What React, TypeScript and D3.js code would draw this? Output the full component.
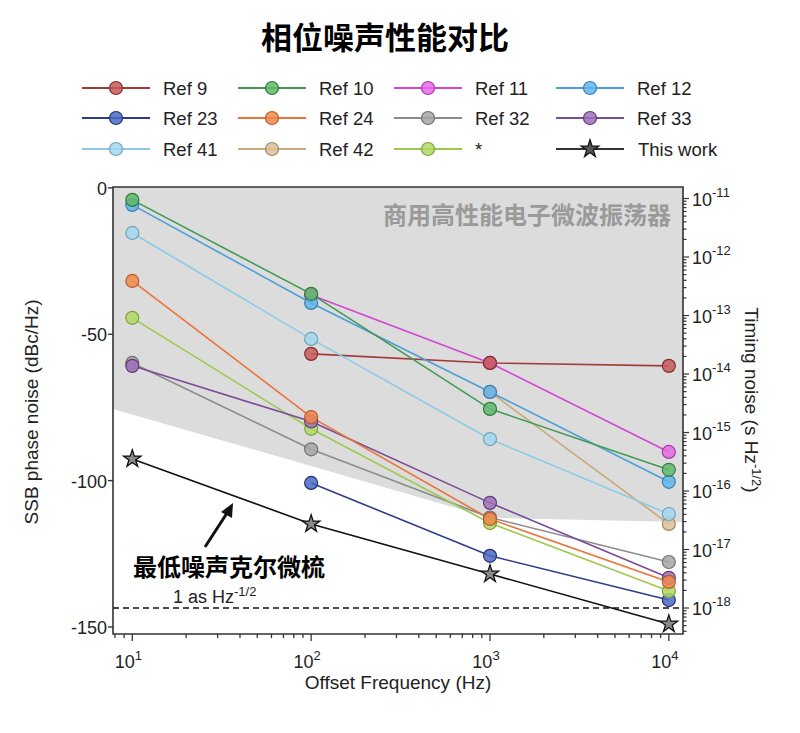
import React, {useEffect, useRef} from 'react'
import * as d3 from 'd3'

// offset frequencies (Hz)
const freqs = [10, 100, 1000, 10000]

type Series = {
    name: string
    line: string
    fill: string
    values: (number | null)[]
}

// SSB phase noise (dBc/Hz)
const ref9 = [null, -56.7, -59.8, -60.8]
const ref10 = [-4.1, -36.2, -75.5, -96.3]
const ref11 = [null, -36.6, -59.8, -90.2]
const ref12 = [-5.8, -39.3, -69.7, -100.4]
const ref23 = [null, -100.8, -125.7, -140.8]
const ref24 = [-31.8, -78.3, -113.1, -134.6]
const ref32 = [-59.8, -89.3, -112.6, -127.8]
const ref33 = [-60.8, -79.8, -107.6, -133.2]
const ref41 = [-15.4, -51.6, -85.8, -111.4]
const ref42 = [null, null, -69.7, -114.8]
const refStar = [-44.4, -82.3, -114.5, -137.7]
const thisWork = [-92.6, -114.8, -131.9, -149]

const series: Series[] = [
    {name: 'Ref 9', line: '#a33a3a', fill: '#c55a5a', values: ref9},
    {name: 'Ref 10', line: '#3f9a52', fill: '#5fb86a', values: ref10},
    {name: 'Ref 11', line: '#d246d2', fill: '#e46ae4', values: ref11},
    {name: 'Ref 12', line: '#4a9fd8', fill: '#62b4ec', values: ref12},
    {name: 'Ref 23', line: '#2c3c8c', fill: '#4a68c4', values: ref23},
    {name: 'Ref 24', line: '#ea7338', fill: '#f08a4c', values: ref24},
    {name: 'Ref 32', line: '#8c8c8c', fill: '#a6a6a6', values: ref32},
    {name: 'Ref 33', line: '#7a4c98', fill: '#9c70ba', values: ref33},
    {name: 'Ref 41', line: '#8ccbe6', fill: '#a6d8ee', values: ref41},
    {name: 'Ref 42', line: '#c8aa7c', fill: '#dcc098', values: ref42},
    {name: '*', line: '#9cca4c', fill: '#b0d866', values: refStar},
]

// draw order inside the plot (hidden points stay underneath)
const drawOrder = ['Ref 42', 'Ref 11', 'Ref 9', 'Ref 41', 'Ref 12', 'Ref 10', 'Ref 32', 'Ref 23', '*', 'Ref 33', 'Ref 24']

// commercial electronic oscillators region (lower edge)
const greyEdgeFreq = [7.8, 1000, 12000]
const greyEdgeDbc = [-75.5, -112.7, -114.1]

const xTicks = [10, 100, 1000, 10000]
const yTicks = [0, -50, -100, -150]
const rightTicks = [-11, -12, -13, -14, -15, -16, -17, -18]

const FONT = '"Liberation Sans", Arial, sans-serif'
const CJK = '"Noto Sans CJK SC", "Noto Sans", sans-serif'

export default function App() {
    const svgRef = useRef<SVGSVGElement>(null)

    useEffect(() => {
        const svg = d3.select(svgRef.current)
        svg.selectAll('*').remove()

        const left = 113, right = 683, top = 187, bottom = 634

        const x = d3.scaleLog().domain([7.8, 12000]).range([left, right])
        const y = d3.scaleLinear().domain([-152.4, 0.3]).range([bottom, top])
        const yr = d3.scaleLog().domain([Math.pow(10, -18.444), Math.pow(10, -10.803)]).range([bottom, top])

        svg.append('rect').attr('width', 800).attr('height', 733).attr('fill', '#fff')

        // title
        svg.append('text')
            .attr('x', 385).attr('y', 49)
            .attr('text-anchor', 'middle')
            .attr('font-family', CJK).attr('font-weight', 'bold').attr('font-size', 31)
            .text('相位噪声性能对比')

        // grey region
        const [x0, x1] = x.domain()
        const poly: [number, number][] = [[x0, 0.3]]
        greyEdgeFreq.forEach((f, i) => poly.push([f, greyEdgeDbc[i]]))
        poly.push([x1, 0.3])
        svg.append('path')
            .attr('d', d3.line<[number, number]>().x(d => x(d[0])).y(d => y(d[1]))(poly) + 'Z')
            .attr('fill', '#dcdcdc')

        svg.append('text')
            .attr('x', 671).attr('y', 224)
            .attr('text-anchor', 'end')
            .attr('font-family', CJK).attr('font-weight', 'bold').attr('font-size', 24)
            .attr('fill', '#9a9a9a')
            .text('商用高性能电子微波振荡器')

        // dashed 1 as line
        svg.append('line')
            .attr('x1', left).attr('x2', right)
            .attr('y1', yr(1e-18)).attr('y2', yr(1e-18))
            .attr('stroke', '#111').attr('stroke-width', 1.5).attr('stroke-dasharray', '6,4')

        const plot = svg.append('g')
        const line = d3.line<[number, number | null]>()
            .defined(d => d[1] != null)
            .x(d => x(d[0]))
            .y(d => y(d[1] as number))

        const ordered = drawOrder.map(n => series.find(s => s.name === n)!)
        ordered.forEach(s => {
            const pts = freqs.map((f, i) => [f, s.values[i]] as [number, number | null])
            plot.append('path')
                .attr('d', line(pts.filter(p => p[1] != null)))
                .attr('fill', 'none').attr('stroke', s.line).attr('stroke-width', 1.6)
        })
        ordered.forEach(s => {
            freqs.forEach((f, i) => {
                const v = s.values[i]
                if (v == null) return
                plot.append('circle')
                    .attr('cx', x(f)).attr('cy', y(v)).attr('r', 6.5)
                    .attr('fill', s.fill).attr('fill-opacity', 0.85)
                    .attr('stroke', d3.rgb(s.line).darker(0.6).toString()).attr('stroke-width', 1.2)
            })
        })

        // this work
        plot.append('path')
            .attr('d', d3.line<number>().x((_, i) => x(freqs[i])).y(d => y(d))(thisWork))
            .attr('fill', 'none').attr('stroke', '#111').attr('stroke-width', 1.6)
        const star = d3.symbol(d3.symbolStar, 95)()
        thisWork.forEach((v, i) => {
            plot.append('path')
                .attr('d', star)
                .attr('transform', `translate(${x(freqs[i])},${y(v)})`)
                .attr('fill', '#8a8a8a').attr('stroke', '#111').attr('stroke-width', 1.3)
        })

        // annotation
        svg.append('line')
            .attr('x1', 205).attr('y1', 547).attr('x2', 229).attr('y2', 510)
            .attr('stroke', '#111').attr('stroke-width', 3)
        svg.append('path')
            .attr('d', 'M233,503 L221,512 L232,518 Z')
            .attr('fill', '#111')
        svg.append('text')
            .attr('x', 133).attr('y', 576)
            .attr('font-family', CJK).attr('font-weight', 'bold').attr('font-size', 24)
            .text('最低噪声克尔微梳')
        const asLbl = svg.append('text')
            .attr('x', 173).attr('y', 603)
            .attr('font-family', FONT).attr('font-size', 18).attr('fill', '#222')
        asLbl.append('tspan').text('1 as Hz')
        asLbl.append('tspan').attr('dy', -7).attr('font-size', 13).text('-1/2')

        // frame
        const axisColor = '#333'
        svg.append('path')
            .attr('d', `M${left},${top} H${right} V${bottom} H${left} Z`)
            .attr('fill', 'none').attr('stroke', axisColor).attr('stroke-width', 1.6)

        // left ticks
        yTicks.forEach(t => {
            svg.append('line')
                .attr('x1', left - 5).attr('x2', left).attr('y1', y(t)).attr('y2', y(t))
                .attr('stroke', axisColor).attr('stroke-width', 1.4)
            svg.append('text')
                .attr('x', left - 6).attr('y', y(t) + 7)
                .attr('text-anchor', 'end')
                .attr('font-family', FONT).attr('font-size', 18).attr('fill', '#222')
                .text(t === 0 ? '0' : String(t))
        })

        // bottom ticks (log, with minors)
        for (let dec = 1; dec <= 10000; dec *= 10) {
            for (let m = 1; m < 10; m++) {
                const v = dec * m
                if (v < x0 || v > x1) continue
                const major = m === 1
                svg.append('line')
                    .attr('x1', x(v)).attr('x2', x(v))
                    .attr('y1', bottom).attr('y2', bottom + (major ? 7 : 4))
                    .attr('stroke', axisColor).attr('stroke-width', 1.3)
            }
        }
        xTicks.forEach(t => {
            const lbl = svg.append('text')
                .attr('x', x(t) - 4).attr('y', 668)
                .attr('text-anchor', 'middle')
                .attr('font-family', FONT).attr('font-size', 18).attr('fill', '#222')
            lbl.append('tspan').text('10')
            lbl.append('tspan').attr('dy', -8).attr('font-size', 13).text(String(Math.log10(t)))
        })

        // right ticks (log, with minors)
        for (let e = -19; e <= -11; e++) {
            for (let m = 1; m < 10; m++) {
                const v = m * Math.pow(10, e)
                const [r0, r1] = yr.domain()
                if (v < r0 || v > r1) continue
                const major = m === 1
                svg.append('line')
                    .attr('x1', right).attr('x2', right + (major ? 6 : 3.5))
                    .attr('y1', yr(v)).attr('y2', yr(v))
                    .attr('stroke', axisColor).attr('stroke-width', 1.2)
            }
        }
        rightTicks.forEach(e => {
            const lbl = svg.append('text')
                .attr('x', 692).attr('y', yr(Math.pow(10, e)) + 7)
                .attr('font-family', FONT).attr('font-size', 18).attr('fill', '#222')
            lbl.append('tspan').text('10')
            lbl.append('tspan').attr('dy', -9).attr('font-size', 13).text(String(e))
        })

        // axis titles
        svg.append('text')
            .attr('transform', 'translate(38,412) rotate(-90)')
            .attr('text-anchor', 'middle')
            .attr('font-family', FONT).attr('font-size', 19).attr('fill', '#222')
            .text('SSB phase noise (dBc/Hz)')
        svg.append('text')
            .attr('x', 398).attr('y', 689)
            .attr('text-anchor', 'middle')
            .attr('font-family', FONT).attr('font-size', 19).attr('fill', '#222')
            .text('Offset Frequency (Hz)')
        const rt = svg.append('text')
            .attr('transform', 'translate(745,400) rotate(90)')
            .attr('text-anchor', 'middle')
            .attr('font-family', FONT).attr('font-size', 19).attr('fill', '#222')
        rt.append('tspan').text('Timing noise (s Hz')
        rt.append('tspan').attr('dy', -7).attr('font-size', 13).text('-1/2')
        rt.append('tspan').attr('dy', 7).text(')')

        // legend
        const legendItems = [...series.map(s => ({name: s.name, line: s.line, fill: s.fill, star: false})),
            {name: 'This work', line: '#333', fill: '#8a8a8a', star: true}]
        const colX = [82, 238, 394, 556]
        const rowY = [88, 118, 149]
        legendItems.forEach((it, i) => {
            const cx = colX[i % 4]
            const cy = rowY[Math.floor(i / 4)]
            const g = svg.append('g').attr('transform', `translate(${cx},${cy})`)
            g.append('line').attr('x1', 0).attr('x2', 68).attr('y1', 0).attr('y2', 0)
                .attr('stroke', it.line).attr('stroke-width', it.star ? 2.2 : 1.8)
            if (it.star) {
                g.append('path').attr('d', star).attr('transform', 'translate(34,0)')
                    .attr('fill', '#555').attr('stroke', '#111').attr('stroke-width', 1.3)
            } else {
                g.append('circle').attr('cx', 34).attr('cy', 0).attr('r', 6.5)
                    .attr('fill', it.fill).attr('fill-opacity', 0.85)
                    .attr('stroke', d3.rgb(it.line).darker(0.6).toString()).attr('stroke-width', 1.2)
            }
            g.append('text')
                .attr('x', it.star ? 82 : 81).attr('y', 6.5)
                .attr('font-family', FONT).attr('font-size', 18.5).attr('fill', '#222')
                .text(it.name)
        })
    }, [])

    return (
        <svg ref={svgRef} width={800} height={733}
             style={{position: 'absolute', left: 0, top: 0, display: 'block'}}/>
    )
}
